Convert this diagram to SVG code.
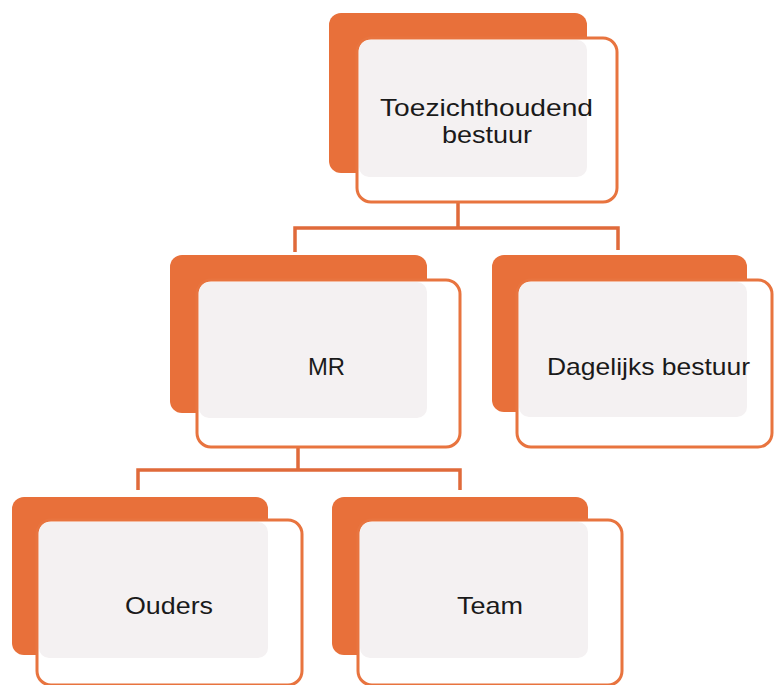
<svg xmlns="http://www.w3.org/2000/svg" width="774" height="685" viewBox="0 0 774 685">
<style>
.back{fill:#e8703a}
.front{fill:#ffffff;stroke:#e8743f;stroke-width:3}
.shade{fill:#f4f1f2}
.lbl{font-family:"Liberation Sans","DejaVu Sans",sans-serif;font-size:24px;fill:#1a1a1a;text-anchor:middle}
.conn{fill:none;stroke:#e06a3a;stroke-width:3.5}
</style>
<rect width="774" height="685" fill="#ffffff"/>
<g id="connectors">
<path class="conn" d="M458 202 V228 M295 252 V228 H618 V250"/>
<path class="conn" d="M298 447 V470 M138 490 V470 H460 V490"/>
</g>
<g id="n-top">
<rect class="back" x="329" y="13" width="258" height="160" rx="12"/>
<rect class="front" x="357" y="38" width="260" height="164" rx="14"/>
<rect class="shade" x="359" y="40" width="228" height="137" rx="10"/>
<text class="lbl" x="486.5" y="116" textLength="213" lengthAdjust="spacingAndGlyphs">Toezichthoudend</text>
<text class="lbl" x="487" y="143" textLength="90" lengthAdjust="spacingAndGlyphs">bestuur</text>
</g>
<g id="n-mr">
<rect class="back" x="170" y="255" width="257" height="158" rx="12"/>
<rect class="front" x="197" y="280" width="263" height="167" rx="14"/>
<rect class="shade" x="199" y="282" width="228" height="136" rx="10"/>
<text class="lbl" x="326.5" y="375" textLength="37" lengthAdjust="spacingAndGlyphs">MR</text>
</g>
<g id="n-dagelijks">
<rect class="back" x="492" y="255" width="255" height="157" rx="12"/>
<rect class="front" x="517" y="280" width="255" height="167" rx="14"/>
<rect class="shade" x="519" y="282" width="228" height="135" rx="10"/>
<text class="lbl" x="648.5" y="375" textLength="203" lengthAdjust="spacingAndGlyphs">Dagelijks bestuur</text>
</g>
<g id="n-ouders">
<rect class="back" x="12" y="497" width="256" height="158" rx="12"/>
<rect class="front" x="37" y="520" width="265" height="165" rx="14"/>
<rect class="shade" x="39" y="522" width="229" height="136" rx="10"/>
<text class="lbl" x="169" y="614" textLength="88" lengthAdjust="spacingAndGlyphs">Ouders</text>
</g>
<g id="n-team">
<rect class="back" x="332" y="497" width="256" height="158" rx="12"/>
<rect class="front" x="358" y="520" width="264" height="165" rx="14"/>
<rect class="shade" x="360" y="522" width="228" height="136" rx="10"/>
<text class="lbl" x="490" y="614" textLength="66" lengthAdjust="spacingAndGlyphs">Team</text>
</g>
</svg>
